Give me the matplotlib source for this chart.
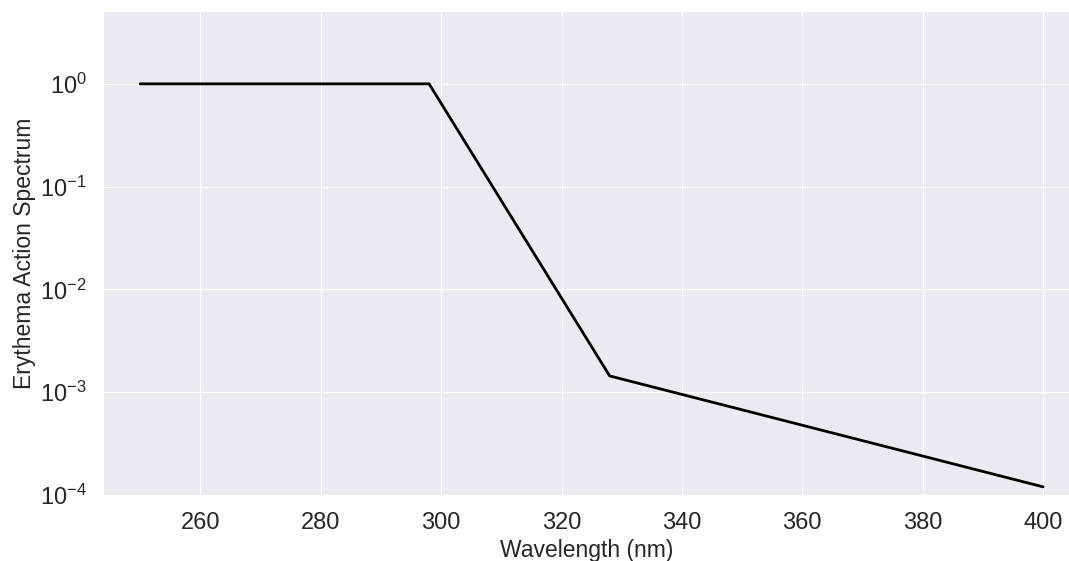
import math
import matplotlib
matplotlib.use("Agg")
import matplotlib.pyplot as plt
import matplotlib.ticker as mticker
import seaborn as sns

# ── Data ─────────────────────────────────────────────────────────────────────
wavelength = [250, 298, 328, 400]
erythema = [1.0, 1.0, 1.44e-3, 1.2e-4]

x_ticks = [260, 280, 300, 320, 340, 360, 380, 400]
y_exponents = [-4, -3, -2, -1, 0]

# ── Style ─────────────────────────────────────────────────────────────────────
sns.set_style("darkgrid", {"grid.linewidth": 1.5})
plt.rcParams["font.family"] = ["Liberation Sans", "DejaVu Sans"]
plt.rcParams["mathtext.default"] = "regular"


def fmt_pow10(y, _):
    return r"$10^{%d}$" % round(math.log10(y))


fig = plt.figure(figsize=(10.69, 5.61), dpi=100)
ax = fig.add_axes([104 / 1069, 1 - 495 / 561, (1069 - 104) / 1069, (495 - 12) / 561])

ax.plot(wavelength, erythema, color="black", linewidth=2.0)
ax.set_yscale("log")
ax.set_xlim(244, 404.3)
ax.set_ylim(1e-4, 5.0)
ax.set_xticks(x_ticks)
ax.set_yticks([10.0 ** e for e in y_exponents])
ax.yaxis.set_major_formatter(mticker.FuncFormatter(fmt_pow10))
ax.minorticks_off()
ax.tick_params(labelsize=17, colors="#262626", pad=9)
ax.set_xlabel("Wavelength (nm)", fontsize=16.5, labelpad=3)
ax.set_ylabel("Erythema Action Spectrum", fontsize=16.5, labelpad=3)
for s in ax.spines.values():
    s.set_visible(False)

fig.savefig("out.png", dpi=100)
